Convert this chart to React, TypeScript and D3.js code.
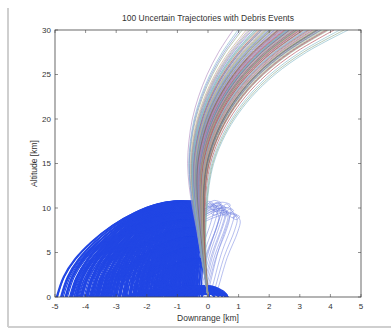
import React from "react";
import * as d3 from "d3";

const W = 391;
const H = 329;
const margin = { top: 30, right: 30, bottom: 32, left: 55 };

const xTicks = [-5, -4, -3, -2, -1, 0, 1, 2, 3, 4, 5];
const yTicks = [0, 5, 10, 15, 20, 25, 30];

// ascent bundle: centre line and half width per altitude
const profileAlt = [0, 2.5, 5, 7.5, 10, 12.5, 15, 17.5, 20, 22.5, 25, 27.5, 30];
const profileMid = [0, -0.08, -0.16, -0.22, -0.27, -0.29, -0.24, -0.08, 0.18, 0.56, 1.08, 1.78, 2.7];
const profileHalf = [0, 0.04, 0.09, 0.15, 0.24, 0.33, 0.43, 0.55, 0.7, 0.88, 1.12, 1.45, 1.9];

// downrange where each trajectory crosses 30 km
const trajEnd = [
  2.71, 1.95, 3.42, 2.18, 1.32, 2.96, 3.85, 2.44, 1.71, 3.12, 2.58, 0.82, 2.03, 3.61, 2.87, 1.54, 2.35, 4.58, 3.27, 1.88,
  2.66, 3.03, 1.12, 2.49, 3.74, 2.21, 1.63, 2.92, 3.36, 2.1, 4.12, 2.77, 1.42, 3.18, 2.55, 1.99, 3.52, 2.31, 0.98, 2.84,
  3.08, 1.76, 2.62, 3.95, 2.27, 1.58, 3.45, 2.69, 2.06, 3.22, 1.85, 2.52, 4.31, 2.98, 1.25, 2.39, 3.66, 2.8, 1.68, 3.14,
  2.14, 2.74, 3.55, 1.46, 2.6, 3.01, 1.92, 2.43, 3.8, 2.9, 1.05, 2.25, 3.3, 2.57, 1.81, 3.48, 2.67, 2.0, 4.45, 3.1,
  1.6, 2.36, 2.95, 3.7, 2.17, 1.37, 2.82, 3.25, 2.47, 1.9, 3.58, 2.64, 2.08, 3.9, 1.52, 2.76, 3.34, 2.3, 1.74, 2.88,
];
const trajColors = ["#7b8bd4", "#8aa88a", "#b04a55", "#7fb8c8", "#b08ac0", "#c2ae86", "#6a6a6a"];

// debris events (release altitude and downrange) and fragment ranges
const debrisAlt = [10.45, 10.2, 9.9, 10.35, 9.6, 10.05, 9.8, 10.25, 9.2, 8.4, 7.5, 6.5, 5.4, 4.2];
const debrisX0 = [-0.3, -0.22, -0.28, -0.38, -0.18, -0.33, -0.12, -0.4, -0.3, -0.25, -0.2, -0.22, -0.16, -0.12];
const fragRange = [
  4.62, 4.48, 4.33, 4.15, 3.98, 3.8, 3.62, 3.45, 3.27, 3.1, 2.92, 2.75, 2.57, 2.4, 2.22, 2.05, 1.88, 1.7, 1.53, 1.36,
  1.2, 1.03, 0.87, 0.7, 0.55, 0.4, 0.25,
];
// shape of a falling fragment: fraction of range vs fraction of release height
const arcU = [0, 0.08, 0.18, 0.3, 0.45, 0.6, 0.75, 0.87, 0.95, 1];
const arcV = [1, 1.02, 1.03, 1.0, 0.91, 0.78, 0.6, 0.41, 0.22, 0];

// fragments thrown forward that curl and then drift back down
const loopAlt = [10.2, 9.9, 9.6, 10.4, 9.3, 10.0, 9.7, 9.1, 10.3, 9.5, 9.8, 8.9, 10.1, 9.4];
const loopWidth = [0.85, 0.7, 0.95, 0.55, 0.8, 0.4, 0.65, 1.05, 0.3, 0.75, 0.5, 1.15, 0.6, 0.45];
const loopLand = [-0.07, -0.22, 0.03, -0.37, -0.12, -0.52, -0.27, 0.13, -0.62, -0.17, -0.42, 0.23, -0.32, -0.47];

// low fragments near the pad
const groundAlt = [0.35, 0.55, 0.75, 0.9, 1.05, 1.2];
const groundRange = [-2.6, -2.1, -1.7, -1.3, -1.0, -0.7, -0.4, -0.15, 0.1, 0.25, 0.4, 0.52, 0.62, 0.7];

const App = () => {
  const x = d3.scaleLinear().domain([-5, 5]).range([margin.left, W - margin.right]);
  const y = d3.scaleLinear().domain([0, 30]).range([H - margin.bottom, margin.top]);

  const line = d3
    .line<[number, number]>()
    .x((d) => x(d[0]))
    .y((d) => y(d[1]))
    .curve(d3.curveCatmullRom);

  const trajectories = trajEnd.map((end, i) => {
    const k = (end - profileMid[profileMid.length - 1]) / profileHalf[profileHalf.length - 1];
    const pts = profileAlt.map((a, j) => [profileMid[j] + k * profileHalf[j], a] as [number, number]);
    return { d: line(pts), color: trajColors[i % trajColors.length] };
  });

  const fragments: string[] = [];
  debrisAlt.forEach((h, e) => {
    const x0 = debrisX0[e];
    fragRange.forEach((r) => {
      const R = (r * h) / 10.45;
      const pts = arcU.map((u, j) => [x0 - u * R, h * arcV[j]] as [number, number]);
      fragments.push(line(pts) as string);
    });
  });
  groundAlt.forEach((h) => {
    groundRange.forEach((r) => {
      const pts = arcU.map((u, j) => [-0.05 + u * r, h * arcV[j]] as [number, number]);
      fragments.push(line(pts) as string);
    });
  });

  const loops = loopAlt.map((h, i) => {
    const x0 = -0.22;
    const w = loopWidth[i];
    const land = loopLand[i];
    const top = x0 + w;
    const pts: [number, number][] = [
      [x0, h - 0.6],
      [x0 + 0.45 * w, h + 0.15],
      [x0 + 0.8 * w, h + 0.45],
      [top + 0.1, h + 0.15],
      [top, h - 0.2],
      [top - 0.12, h],
      [top - 0.02, h + 0.25],
      [top + 0.12, h - 0.3],
      [top + 0.04, h - 1.6],
      [(top + land) / 2 + 0.05, h / 2],
      [land + 0.1, 1],
      [land, 0],
    ];
    return line(pts);
  });

  const axisColor = "#444";
  const font = "'Liberation Sans', Arial, sans-serif";

  return (
    <svg width={W} height={H} style={{ position: "absolute", left: 0, top: 0, background: "#fff" }}>
      <defs>
        <clipPath id="plot">
          <rect x={x(-5)} y={y(30)} width={x(5) - x(-5)} height={y(0) - y(30)} />
        </clipPath>
      </defs>
      <line x1={8} y1={8} x2={8} y2={327} stroke="#cfcfcf" strokeWidth={2} />
      <line x1={8} y1={327} x2={W} y2={327} stroke="#cfcfcf" strokeWidth={2} />

      <g clipPath="url(#plot)" fill="none">
        {loops.map((d, i) => (
          <path key={"l" + i} d={d as string} stroke="#7484e0" strokeWidth={0.7} opacity={0.75} />
        ))}
        {fragments.map((d, i) => (
          <path key={"f" + i} d={d} stroke="#2146e4" strokeWidth={1.2} />
        ))}
        {trajectories.map((t, i) => (
          <path key={"t" + i} d={t.d as string} stroke={t.color} strokeWidth={0.9} opacity={0.7} />
        ))}
      </g>

      <rect
        x={x(-5)}
        y={y(30)}
        width={x(5) - x(-5)}
        height={y(0) - y(30)}
        fill="none"
        stroke={axisColor}
        strokeWidth={0.8}
      />
      {xTicks.map((t) => (
        <g key={"x" + t}>
          <line x1={x(t)} x2={x(t)} y1={y(0)} y2={y(0) - 3} stroke={axisColor} strokeWidth={0.6} />
          <line x1={x(t)} x2={x(t)} y1={y(30)} y2={y(30) + 3} stroke={axisColor} strokeWidth={0.6} />
          <text x={x(t)} y={y(0) + 12} textAnchor="middle" fontSize={8} fontFamily={font} fill="#333">
            {t}
          </text>
        </g>
      ))}
      {yTicks.map((t) => (
        <g key={"y" + t}>
          <line x1={x(-5)} x2={x(-5) + 3} y1={y(t)} y2={y(t)} stroke={axisColor} strokeWidth={0.6} />
          <line x1={x(5)} x2={x(5) - 3} y1={y(t)} y2={y(t)} stroke={axisColor} strokeWidth={0.6} />
          <text x={x(-5) - 4} y={y(t)} dy="0.35em" textAnchor="end" fontSize={8} fontFamily={font} fill="#333">
            {t}
          </text>
        </g>
      ))}
      <text x={(x(-5) + x(5)) / 2} y={21} textAnchor="middle" fontSize={8.5} fontFamily={font} fill="#333">
        100 Uncertain Trajectories with Debris Events
      </text>
      <text x={(x(-5) + x(5)) / 2} y={321} textAnchor="middle" fontSize={8.5} fontFamily={font} fill="#333">
        Downrange [km]
      </text>
      <text
        transform={`translate(37,${(y(0) + y(30)) / 2}) rotate(-90)`}
        textAnchor="middle"
        fontSize={8.5}
        fontFamily={font}
        fill="#333"
      >
        Altitude [km]
      </text>
    </svg>
  );
};

export default App;
